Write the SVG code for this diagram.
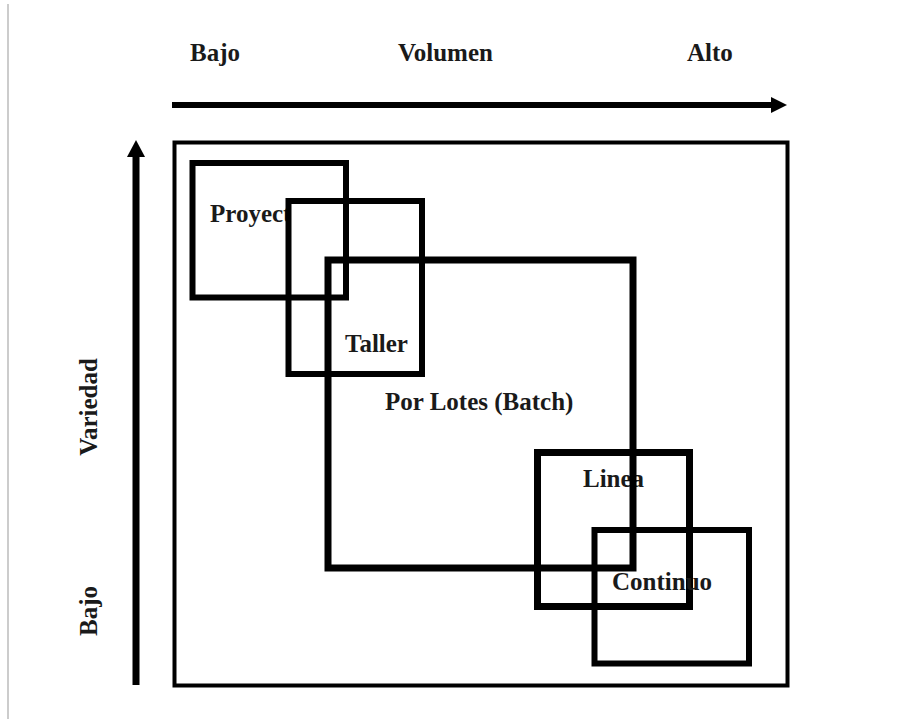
<svg xmlns="http://www.w3.org/2000/svg" width="902" height="719" viewBox="0 0 902 719">
<style>
  .t{font-family:"Liberation Serif","Times New Roman",serif;font-weight:bold;font-size:25px;fill:#1a1a1a}
  .box{fill:none;stroke:#000}
  .ax{stroke:#000;fill:none}
</style>
<defs>
  <clipPath id="clipProy"><rect x="190" y="160" width="96" height="80"/></clipPath>
</defs>
<rect width="902" height="719" fill="#fff"/>
<line x1="8" y1="4" x2="8" y2="719" stroke="#bbb" stroke-width="1.5"/>
<g id="axes">
  <line class="ax" x1="172" y1="105" x2="776" y2="105" stroke-width="6"/>
  <path d="M771,97 L787,105 L771,113 Z" fill="#000"/>
  <line class="ax" x1="136" y1="685" x2="136" y2="150" stroke-width="7"/>
  <path d="M127,157 L136,140 L145,157 Z" fill="#000"/>
  <text class="t" x="190" y="61">Bajo</text>
  <text class="t" x="398" y="61">Volumen</text>
  <text class="t" x="687" y="61">Alto</text>
  <text class="t" transform="translate(97,407) rotate(-90)" text-anchor="middle">Variedad</text>
  <text class="t" transform="translate(97,611) rotate(-90)" text-anchor="middle">Bajo</text>
</g>
<g id="frame"><rect class="box" x="174.5" y="142.5" width="613" height="543" stroke-width="4"/></g>
<g id="proyecto">
  <text class="t" x="210" y="222" clip-path="url(#clipProy)">Proyecto</text>
  <rect class="box" x="192.5" y="163" width="153.5" height="134.5" stroke-width="6"/>
</g>
<g id="taller">
  <rect class="box" x="288.5" y="201" width="133.5" height="173" stroke-width="6"/>
  <text class="t" x="345" y="352">Taller</text>
</g>
<g id="batch">
  <text class="t" x="385" y="410">Por Lotes (Batch)</text>
</g>
<g id="linea">
  <text class="t" x="583" y="487">Linea</text>
  <rect class="box" x="537.5" y="452.5" width="152" height="154" stroke-width="7"/>
</g>
<g id="continuo">
  <text class="t" x="612" y="590">Continuo</text>
  <rect class="box" x="594.5" y="530" width="154.5" height="133.5" stroke-width="6"/>
</g>
<g id="batchbox">
  <rect class="box" x="328" y="260" width="305" height="308" stroke-width="7"/>
</g>
</svg>
